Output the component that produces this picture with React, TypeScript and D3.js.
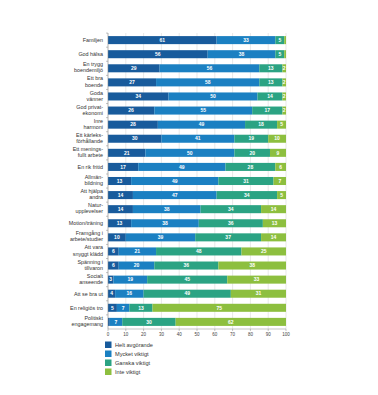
import React from "react";
import * as d3 from "d3";

const categories: string[][] = [
  ["Familjen"],
  ["God hälsa"],
  ["En trygg", "boendemiljö"],
  ["Ett bra", "boende"],
  ["Goda", "vänner"],
  ["God privat-", "ekonomi"],
  ["Inre", "harmoni"],
  ["Ett kärleks-", "förhållande"],
  ["Ett menings-", "fullt arbete"],
  ["En rik fritid"],
  ["Allmän-", "bildning"],
  ["Att hjälpa", "andra"],
  ["Natur-", "upplevelser"],
  ["Motion/träning"],
  ["Framgång i", "arbete/studier"],
  ["Att vara", "snyggt klädd"],
  ["Spänning i", "tillvaron"],
  ["Socialt", "anseende"],
  ["Att se bra ut"],
  ["En religiös tro"],
  ["Politiskt", "engagemang"],
];

const heltAvgorande = [61, 56, 29, 27, 34, 26, 28, 30, 21, 17, 13, 14, 14, 13, 10, 6, 6, 3, 4, 5, 1];
const mycketViktigt = [33, 38, 56, 58, 50, 55, 49, 41, 50, 49, 49, 47, 38, 38, 39, 21, 20, 19, 16, 7, 7];
const ganskaViktigt = [5, 5, 13, 13, 14, 17, 18, 19, 20, 28, 31, 34, 34, 36, 37, 48, 36, 45, 49, 13, 30];
const inteViktigt = [1, 1, 2, 2, 2, 2, 5, 10, 9, 6, 7, 5, 14, 13, 14, 25, 38, 33, 31, 75, 62];

const seriesNames = ["Helt avgörande", "Mycket viktigt", "Ganska viktigt", "Inte viktigt"];
const seriesColors = ["#185b9c", "#1b80c2", "#2ba383", "#8dbf3f"];
const xTicks = [0, 10, 20, 30, 40, 50, 60, 70, 80, 90, 100];

export default function App() {
  const width = 378;
  const height = 395;
  const x = d3.scaleLinear().domain([0, 100]).range([108, 286]);
  const y = d3
    .scaleBand<number>()
    .domain(d3.range(categories.length))
    .range([33, 329])
    .paddingInner(0.43)
    .paddingOuter(0.22);

  const rows = categories.map((_, i) => ({
    idx: i,
    v0: heltAvgorande[i],
    v1: mycketViktigt[i],
    v2: ganskaViktigt[i],
    v3: inteViktigt[i],
  }));
  const stack = d3.stack<any>().keys(["v0", "v1", "v2", "v3"]);
  const stacked = stack(rows);
  const font = "'Liberation Sans', Arial, sans-serif";
  const bw = y.bandwidth();

  return (
    <svg width={width} height={height} style={{ display: "block", position: "absolute", left: 0, top: 0 }}>
      <rect width={width} height={height} fill="#fff" />
      {xTicks.map((t) => (
        <line key={"g" + t} x1={x(t)} x2={x(t)} y1={33} y2={329} stroke="#d9d9d9" strokeWidth={0.6} />
      ))}
      {stacked.map((s, si) =>
        s.map((d, i) => {
          const v = d[1] - d[0];
          const x0 = x(d[0]);
          const x1 = x(d[1]);
          const yy = y(i)!;
          return (
            <g key={si + "-" + i}>
              <rect x={x0} y={yy} width={x1 - x0} height={bw} fill={seriesColors[si]} />
              {v >= 2 ? (
                <text
                  x={(x0 + x1) / 2}
                  y={yy + bw / 2}
                  dy="0.35em"
                  textAnchor="middle"
                  fontSize={5}
                  fontWeight="bold"
                  fill="#fff"
                  fontFamily={font}
                >
                  {v}
                </text>
              ) : null}
            </g>
          );
        })
      )}
      <line x1={108} x2={108} y1={33} y2={329} stroke="#888" strokeWidth={0.5} />
      <line x1={108} x2={286} y1={329} y2={329} stroke="#888" strokeWidth={0.5} />
      {xTicks.map((t) => (
        <g key={"t" + t}>
          <line x1={x(t)} x2={x(t)} y1={329} y2={331} stroke="#888" strokeWidth={0.5} />
          <text x={x(t)} y={335.5} textAnchor="middle" fontSize={4.5} fill="#444" fontFamily={font}>
            {t}
          </text>
        </g>
      ))}
      {categories.map((lines, i) => {
        const cy = y(i)! + bw / 2;
        const lh = 6.1;
        const start = cy - ((lines.length - 1) * lh) / 2 - (lines.length > 1 ? 0.8 : 0);
        return (
          <g key={"c" + i}>
            <line x1={106} x2={108} y1={y(i)! - 3} y2={y(i)! - 3} stroke="#888" strokeWidth={0.5} />
            {lines.map((l, j) => (
              <text
                key={j}
                x={103}
                y={start + j * lh}
                dy="0.35em"
                textAnchor="end"
                fontSize={5.4}
                fill="#333"
                fontFamily={font}
              >
                {l}
              </text>
            ))}
          </g>
        );
      })}
      {seriesNames.map((n, i) => (
        <g key={"l" + i}>
          <rect x={105} y={341.5 + i * 9} width={6.5} height={6.5} fill={seriesColors[i]} />
          <text x={115} y={344.8 + i * 9} dy="0.35em" fontSize={5.6} fill="#333" fontFamily={font}>
            {n}
          </text>
        </g>
      ))}
    </svg>
  );
}
